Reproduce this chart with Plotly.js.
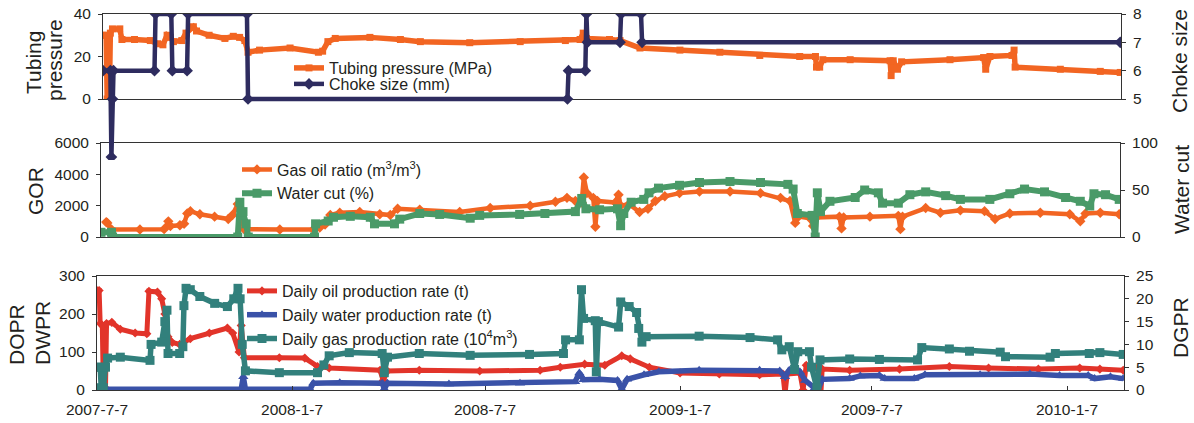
<!DOCTYPE html>
<html><head><meta charset="utf-8">
<script src="https://cdn.plot.ly/plotly-3.0.1.min.js"></script>
<style>html,body{margin:0;padding:0;background:#fff}#chart{width:1194px;height:423px}</style>
</head><body><div id="chart"></div>
<script>
// ---------------- data ----------------
const tpDates = ['2007-07-07','2007-07-10','2007-07-11','2007-07-13','2007-07-14','2007-07-16','2007-07-23','2007-07-25','2007-08-06','2007-08-21','2007-08-28','2007-09-02','2007-09-06','2007-09-09','2007-09-12','2007-09-20','2007-09-24','2007-10-01','2007-10-04','2007-10-16','2007-10-31','2007-11-08','2007-11-14','2007-11-19','2007-11-22','2007-12-03','2008-01-01','2008-01-28','2008-02-01','2008-02-06','2008-02-13','2008-03-17','2008-04-15','2008-05-04','2008-06-20','2008-08-07','2008-09-19','2008-10-03','2008-10-06','2008-10-09','2008-10-31','2008-11-10','2008-11-29','2009-01-06','2009-02-13','2009-03-23','2009-04-30','2009-05-15','2009-05-16','2009-05-19','2009-05-22','2009-06-17','2009-07-25','2009-07-26','2009-07-28','2009-08-01','2009-08-05','2009-09-20','2009-10-22','2009-10-24','2009-10-28','2009-11-18','2009-11-20','2009-11-21','2010-01-03','2010-02-10','2010-03-01'];
const tpValues = [30,30,0,0,31,33,33,28,28,27.5,26,25.5,30,29,27,27.5,31,34,32,30,28.5,29.5,29,27.5,22,23,24,22,22.5,27,28.5,29,28,27,26.5,27,27.5,28,31,28.5,28,27.5,24,23,22,20.5,20,20,15,15,18.5,18.5,18,11,18,14,17.5,18.5,19.5,14,20,20.5,23,15,14,13,12.5];

const chokeDates = ['2007-07-07','2007-07-14','2007-07-15','2007-07-16','2007-07-17','2007-08-25','2007-08-26','2007-09-10','2007-09-11','2007-09-25','2007-09-26','2007-11-21','2007-11-22','2008-09-21','2008-09-22','2008-10-08','2008-10-09','2008-10-10','2008-11-10','2008-11-11','2008-11-30','2008-12-01','2010-03-01'];
const chokeValues = [6,6,2.95,5,6,6,8,8,6,6,8,8,5,5,6,6,8,7,7,8,8,7,7];

const gorDates = ['2007-07-12','2007-07-13','2007-07-17','2007-08-13','2007-09-05','2007-09-09','2007-09-11','2007-09-20','2007-09-24','2007-09-27','2007-09-30','2007-10-09','2007-10-23','2007-11-05','2007-11-09','2007-11-14','2007-11-16','2007-11-20','2007-12-24','2008-01-25','2008-01-31','2008-02-05','2008-02-10','2008-02-19','2008-03-09','2008-03-28','2008-04-07','2008-04-14','2008-05-05','2008-06-12','2008-07-11','2008-08-18','2008-09-11','2008-09-22','2008-09-30','2008-10-06','2008-10-08','2008-10-11','2008-10-17','2008-10-19','2008-10-21','2008-11-07','2008-11-10','2008-11-12','2008-11-20','2008-11-30','2008-12-08','2008-12-15','2008-12-24','2009-01-07','2009-01-26','2009-02-24','2009-03-25','2009-04-13','2009-04-22','2009-04-27','2009-04-30','2009-05-11','2009-05-14','2009-05-17','2009-06-08','2009-06-10','2009-06-12','2009-07-07','2009-08-03','2009-08-05','2009-08-07','2009-08-29','2009-09-12','2009-10-01','2009-10-24','2009-11-03','2009-11-17','2009-12-16','2010-01-13','2010-01-23','2010-01-28','2010-02-11','2010-03-01'];
const gorValues = [950,900,480,480,500,1000,700,750,850,1500,1650,1450,1300,1150,1400,2100,1700,500,480,480,600,800,1400,1550,1600,1450,1400,1800,1750,1600,1850,2000,2250,2500,2300,2200,3800,2800,2500,650,2300,2200,2700,2000,2100,1600,1800,2300,2600,2800,2900,2900,2800,2500,2300,900,1300,1200,700,1250,1300,550,1250,1300,1350,500,1300,1850,1550,1700,1650,1150,1500,1550,1450,1000,1500,1550,1450];

const wcDates = ['2007-07-07','2007-07-17','2007-07-18','2007-11-14','2007-11-16','2007-11-19','2007-11-22','2007-11-24','2008-01-26','2008-01-27','2008-02-08','2008-02-13','2008-02-29','2008-03-19','2008-03-23','2008-04-11','2008-04-16','2008-05-05','2008-05-24','2008-06-22','2008-07-01','2008-08-08','2008-09-01','2008-09-30','2008-10-06','2008-10-10','2008-10-23','2008-11-09','2008-11-12','2008-11-15','2008-11-22','2008-12-04','2008-12-09','2008-12-18','2009-01-07','2009-01-26','2009-02-24','2009-03-25','2009-04-20','2009-04-25','2009-04-29','2009-05-13','2009-05-16','2009-05-18','2009-05-21','2009-05-30','2009-06-23','2009-07-02','2009-07-15','2009-07-19','2009-08-03','2009-08-14','2009-08-29','2009-09-17','2009-10-01','2009-10-29','2009-11-17','2009-12-01','2009-12-20','2010-01-09','2010-01-23','2010-02-01','2010-02-05','2010-02-16','2010-03-01'];
const wcValues = [5,5,0,0,37,27,14,0,0,14,17,21,22,21,14,14,19,25,24,20,23,24,25,27,41,30,29,30,12,25,37,40,47,52,55,58,59,58,56,51,25,23,0,47,27,38,42,50,47,36,36,45,48,44,40,40,46,51,48,42,38,33,46,45,40];

const oilDates = ['2007-07-07','2007-07-09','2007-07-10','2007-07-12','2007-07-13','2007-07-15','2007-07-16','2007-07-21','2007-07-29','2007-08-12','2007-08-23','2007-08-25','2007-09-02','2007-09-06','2007-09-09','2007-09-12','2007-09-16','2007-09-23','2007-10-03','2007-10-21','2007-11-07','2007-11-12','2007-11-18','2007-11-20','2007-11-23','2007-12-26','2008-01-19','2008-01-31','2008-02-11','2008-03-30','2008-04-02','2008-04-06','2008-05-06','2008-07-02','2008-08-28','2008-09-16','2008-10-09','2008-10-28','2008-11-13','2008-11-21','2008-12-09','2009-01-07','2009-02-13','2009-03-23','2009-04-14','2009-04-16','2009-04-18','2009-04-30','2009-05-03','2009-05-06','2009-05-17','2009-05-19','2009-05-21','2009-06-16','2009-08-02','2009-09-18','2009-10-25','2009-12-11','2010-01-19','2010-02-07','2010-03-01'];
const oilValues = [262,262,175,170,5,5,175,178,160,150,148,260,258,240,200,140,125,120,135,150,163,150,100,170,85,85,84,62,58,52,25,50,52,50,52,60,68,65,90,82,60,45,42,40,42,-10,42,45,0,65,60,-55,55,52,55,62,58,55,58,55,52];

const waterDates = ['2007-07-07','2007-11-20','2007-11-22','2007-11-24','2008-01-24','2008-01-27','2008-02-21','2008-04-01','2008-04-03','2008-04-06','2008-06-03','2008-08-09','2008-09-30','2008-10-04','2008-10-08','2008-10-23','2008-11-09','2008-11-13','2008-11-18','2008-12-04','2008-12-18','2009-01-25','2009-03-23','2009-04-11','2009-04-16','2009-04-20','2009-04-30','2009-05-05','2009-05-14','2009-05-17','2009-05-21','2009-06-16','2009-06-26','2009-07-14','2009-07-19','2009-08-16','2009-08-26','2009-10-17','2009-12-03','2009-12-31','2010-01-27','2010-02-02','2010-02-17','2010-03-01'];
const waterValues = [2,2,35,2,2,18,19,18,3,18,16,18,22,45,27,28,25,2,28,40,48,52,52,50,35,52,48,25,5,0,28,30,37,38,30,30,40,40,42,38,38,30,35,30];

const gasDates = ['2007-07-07','2007-07-10','2007-07-11','2007-07-13','2007-07-15','2007-07-17','2007-07-29','2007-08-26','2007-08-27','2007-09-06','2007-09-09','2007-09-11','2007-09-12','2007-09-23','2007-09-26','2007-09-27','2007-09-29','2007-10-03','2007-10-12','2007-10-26','2007-11-07','2007-11-13','2007-11-17','2007-11-19','2007-11-21','2007-11-24','2007-12-26','2008-01-31','2008-02-06','2008-02-11','2008-03-01','2008-04-01','2008-04-03','2008-04-06','2008-05-06','2008-06-23','2008-08-18','2008-09-19','2008-09-21','2008-10-04','2008-10-06','2008-10-08','2008-10-19','2008-10-20','2008-10-22','2008-11-10','2008-11-12','2008-11-20','2008-11-27','2008-11-29','2008-12-02','2008-12-06','2009-01-25','2009-03-14','2009-04-09','2009-04-13','2009-04-20','2009-04-25','2009-04-28','2009-05-09','2009-05-11','2009-05-16','2009-05-19','2009-06-16','2009-07-14','2009-08-19','2009-08-23','2009-09-18','2009-10-07','2009-11-05','2009-11-10','2009-12-22','2009-12-27','2010-01-28','2010-02-07','2010-03-01'];
const gasValues = [5,5,0.5,0.5,5,7,7.2,6.5,10,10.5,15,17.5,8,8,9.5,18.5,22.3,22,20.5,19,18.3,20,22.3,20,10,4.2,3.8,3.8,5.5,7.5,8.2,8,3.8,7.2,8,7.6,7.8,8,11,11,22,15.7,15.2,4,15,13.8,19.3,18.3,17,13.5,10.5,11.7,11.8,11.5,11,8.8,9.5,4.5,8.4,8.4,5,0.5,6.6,6.8,6.7,6.6,9.3,9,8.5,8.3,7.3,7.2,8,8,8.2,7.8];

const xTickDates = ['2007-07-07','2008-01-07','2008-07-07','2009-01-07','2009-07-07','2010-01-07'];
const xTickLabels = ['2007-7-7','2008-1-7','2008-7-7','2009-1-7','2009-7-7','2010-1-7'];

// ---------------- layout helpers ----------------
const W = 1194, H = 423;
const px = v => v / W;
const py = v => 1 - v / H;
const xRange = ['2007-07-07', '2010-03-01 18:00'];
const FONT = 'Liberation Sans, Arial, sans-serif';
const TXT = '#231f20';
const LINE = '#333333';
const tickFont = {family: FONT, size: 15.5, color: TXT};

const C_ORANGE = '#f26522', C_NAVY = '#2e2c5f', C_GREEN = '#4a9a68',
      C_RED = '#e2342a', C_BLUE = '#3a52a8', C_TEAL = '#32807c';

const traces = [
  {x: tpDates, y: tpValues, xaxis: 'x', yaxis: 'y', name: 'Tubing pressure (MPa)', legend: 'legend',
   mode: 'lines+markers', line: {color: C_ORANGE, width: 5.5}, marker: {symbol: 'square', size: 7, color: C_ORANGE}},
  {x: gorDates, y: gorValues, xaxis: 'x2', yaxis: 'y2', name: 'Gas oil ratio (m<sup>3</sup>/m<sup>3</sup>)', legend: 'legend3',
   mode: 'lines+markers', line: {color: C_ORANGE, width: 4.5}, marker: {symbol: 'diamond', size: 8, color: C_ORANGE}},
  {x: wcDates, y: wcValues, xaxis: 'x2', yaxis: 'y3', name: 'Water cut (%)', legend: 'legend3',
   mode: 'lines+markers', line: {color: C_GREEN, width: 6}, marker: {symbol: 'square', size: 9, color: C_GREEN}},
  {x: oilDates, y: oilValues, xaxis: 'x3', yaxis: 'y4', name: 'Daily oil production rate (t)', legend: 'legend4',
   mode: 'lines+markers', line: {color: C_RED, width: 5}, marker: {symbol: 'diamond', size: 7, color: C_RED}},
  {x: waterDates, y: waterValues, xaxis: 'x3', yaxis: 'y4', name: 'Daily water production rate (t)', legend: 'legend4',
   mode: 'lines+markers', line: {color: C_BLUE, width: 5.5}, marker: {symbol: 'triangle-up', size: 9, color: C_BLUE}},
  {x: gasDates, y: gasValues, xaxis: 'x3', yaxis: 'y5', name: 'Daily gas production rate (10<sup>4</sup>m<sup>3</sup>)', legend: 'legend4',
   mode: 'lines+markers', line: {color: C_TEAL, width: 5.5}, marker: {symbol: 'square', size: 9, color: C_TEAL}},
  {x: chokeDates, y: chokeValues, xaxis: 'x4', yaxis: 'y6', name: 'Choke size (mm)', legend: 'legend2',
   mode: 'lines+markers', line: {color: C_NAVY, width: 4.5}, marker: {symbol: 'diamond', size: 9, color: C_NAVY}}
];

const baseX = {type: 'date', range: xRange, showgrid: false, zeroline: false,
  showline: true, linecolor: LINE, linewidth: 1, mirror: true, tickfont: tickFont, fixedrange: true};
const leftY = {showgrid: false, zeroline: false, showline: true, linecolor: LINE, linewidth: 1, mirror: true,
  ticks: 'outside', ticklen: 4, tickcolor: LINE, tickfont: tickFont, ticklabelstandoff: 4};
const rightY = {showgrid: false, zeroline: false, showline: false, side: 'right',
  ticks: 'outside', ticklen: 4, tickcolor: LINE, tickfont: tickFont, ticklabelstandoff: 4};
const legFont = {family: FONT, size: 16, color: TXT};
const leg = (x, y) => ({x: px(x), y: py(y), xanchor: 'left', yanchor: 'middle', xref: 'paper', yref: 'paper',
  bgcolor: 'rgba(0,0,0,0)', borderwidth: 0, font: legFont, tracegroupgap: 0});

const ann = (text, x, y) => ({text, x: px(x), y: py(y), xref: 'paper', yref: 'paper', showarrow: false,
  textangle: -90, xanchor: 'center', yanchor: 'middle', font: {family: FONT, size: 21, color: TXT}});

const layout = {
  width: W, height: H, margin: {l: 0, r: 0, t: 0, b: 0, pad: 0},
  paper_bgcolor: '#ffffff', plot_bgcolor: 'rgba(0,0,0,0)', showlegend: true,
  font: {family: FONT, color: TXT},
  xaxis: Object.assign({}, baseX, {domain: [px(103), px(1121)], anchor: 'y', showticklabels: false, ticks: ''}),
  yaxis: Object.assign({}, leftY, {domain: [py(99), py(14)], anchor: 'x', range: [0, 40], tickvals: [0, 20, 40]}),
  xaxis4: {type: 'date', range: xRange, domain: [px(103), px(1121)], anchor: 'y6', visible: false, fixedrange: true},
  yaxis6: Object.assign({}, rightY, {domain: [py(160), py(14)], anchor: 'x4', range: [2.847, 8], tickvals: [5, 6, 7, 8]}),
  xaxis2: Object.assign({}, baseX, {domain: [px(101), px(1120)], anchor: 'y2', showticklabels: false, ticks: ''}),
  yaxis2: Object.assign({}, leftY, {domain: [py(237), py(143)], anchor: 'x2', range: [0, 6000], tickvals: [0, 2000, 4000, 6000]}),
  yaxis3: Object.assign({}, rightY, {overlaying: 'y2', anchor: 'x2', range: [0, 100], tickvals: [0, 50, 100]}),
  xaxis3: Object.assign({}, baseX, {domain: [px(97), px(1124)], anchor: 'y4', tickvals: xTickDates, ticktext: xTickLabels,
    ticks: 'inside', ticklen: 4, tickcolor: LINE, ticklabelstandoff: 5}),
  yaxis4: Object.assign({}, leftY, {domain: [py(390), py(276)], anchor: 'x3', range: [0, 300], tickvals: [0, 100, 200, 300]}),
  yaxis5: Object.assign({}, rightY, {overlaying: 'y4', anchor: 'x3', range: [0, 25], tickvals: [0, 5, 10, 15, 20, 25]}),
  legend: leg(289, 68),
  legend2: leg(289, 84),
  legend3: leg(237, 181.5),
  legend4: leg(242, 315),
  annotations: [
    ann('Tubing', 33, 63), ann('pressure', 55, 60), ann('GOR', 35, 191),
    ann('DOPR', 16, 335), ann('DWPR', 42, 333),
    ann('Choke size', 1180, 61), ann('Water cut', 1181, 190), ann('DGPR', 1180, 328)
  ]
};

Plotly.newPlot('chart', traces, layout, {staticPlot: true, displayModeBar: false});
</script></body></html>
